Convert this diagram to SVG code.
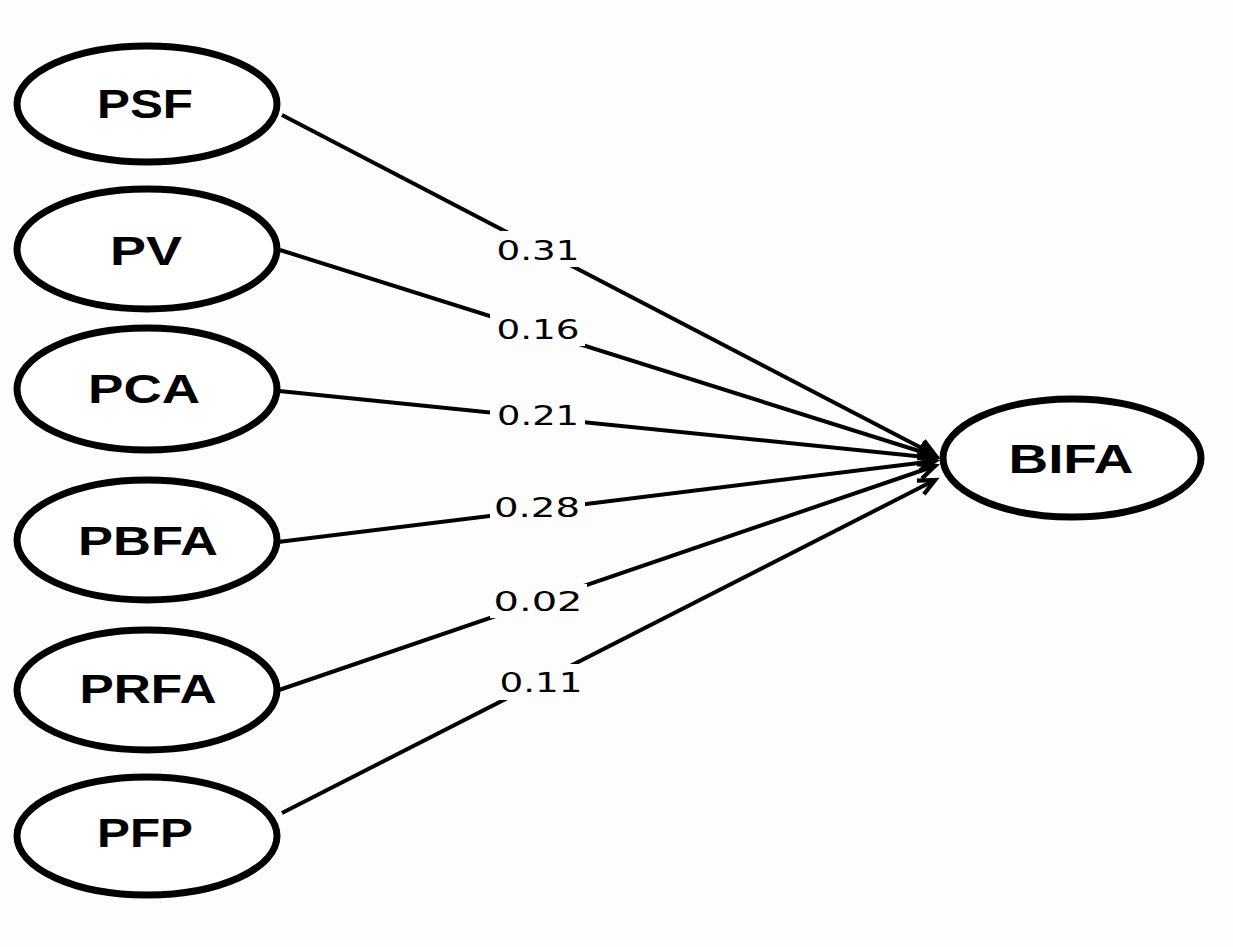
<svg xmlns="http://www.w3.org/2000/svg" width="1233" height="947" viewBox="0 0 1233 947">
  <style>
    .node ellipse { fill: #ffffff; stroke: #000000; stroke-width: 7; }
    .node text { font-family: "Liberation Sans", Arial, sans-serif; font-weight: bold; font-size: 40px; fill: #000000; text-anchor: middle; }
    .edge line { stroke: #000000; stroke-width: 4; marker-end: url(#arrow); }
    .lbl rect { fill: #fdfdfd; stroke: none; }
    .lbl text { font-family: "DejaVu Sans", "Liberation Sans", sans-serif; font-size: 27px; fill: #000000; text-anchor: middle; }
  </style>
  <defs>
    <marker id="arrow" markerUnits="userSpaceOnUse" markerWidth="24" markerHeight="24" viewBox="-2 -2 22 20" refX="16" refY="8" orient="auto" overflow="visible">
      <path d="M1,1 L16,8 L1,15" fill="none" stroke="#000000" stroke-width="4" stroke-linejoin="miter"/>
    </marker>
  </defs>
  <rect x="0" y="0" width="1233" height="947" fill="#fdfdfd"/>

  <g id="connectors">
    <g class="edge">
      <line x1="282" y1="115" x2="935" y2="455"/>
      <line x1="280" y1="250" x2="935" y2="456"/>
      <line x1="279" y1="391" x2="935" y2="458"/>
      <line x1="278" y1="542" x2="935" y2="461"/>
      <line x1="279" y1="690" x2="935" y2="466"/>
      <line x1="282" y1="813" x2="935" y2="480"/>
    </g>
    <g class="lbl">
      <rect x="490" y="231" width="95" height="36"/>
      <text x="538" y="260" textLength="83" lengthAdjust="spacingAndGlyphs">0.31</text>
      <rect x="490" y="313" width="95" height="33"/>
      <text x="538" y="339" textLength="83" lengthAdjust="spacingAndGlyphs">0.16</text>
      <rect x="490" y="400" width="95" height="32"/>
      <text x="538" y="425" textLength="82" lengthAdjust="spacingAndGlyphs">0.21</text>
      <rect x="490" y="491" width="95" height="32"/>
      <text x="537" y="517" textLength="86" lengthAdjust="spacingAndGlyphs">0.28</text>
      <rect x="490" y="584" width="97" height="34"/>
      <text x="538" y="611" textLength="89" lengthAdjust="spacingAndGlyphs">0.02</text>
      <rect x="490" y="664" width="97" height="36"/>
      <text x="541" y="692" textLength="83" lengthAdjust="spacingAndGlyphs">0.11</text>
    </g>
  </g>

  <g id="PSF" class="node">
    <ellipse cx="147" cy="104" rx="130" ry="58"/>
    <text x="145" y="118" textLength="96" lengthAdjust="spacingAndGlyphs">PSF</text>
  </g>
  <g id="PV" class="node">
    <ellipse cx="147" cy="249" rx="130" ry="60"/>
    <text x="146" y="265" textLength="72" lengthAdjust="spacingAndGlyphs">PV</text>
  </g>
  <g id="PCA" class="node">
    <ellipse cx="147" cy="389" rx="130" ry="61"/>
    <text x="144" y="403" textLength="112" lengthAdjust="spacingAndGlyphs">PCA</text>
  </g>
  <g id="PBFA" class="node">
    <ellipse cx="147" cy="540" rx="130" ry="60"/>
    <text x="148" y="555" textLength="140" lengthAdjust="spacingAndGlyphs">PBFA</text>
  </g>
  <g id="PRFA" class="node">
    <ellipse cx="147" cy="690" rx="130" ry="60"/>
    <text x="148" y="703" textLength="137" lengthAdjust="spacingAndGlyphs">PRFA</text>
  </g>
  <g id="PFP" class="node">
    <ellipse cx="147" cy="836" rx="130" ry="59"/>
    <text x="145" y="847" textLength="96" lengthAdjust="spacingAndGlyphs">PFP</text>
  </g>
  <g id="BIFA" class="node">
    <ellipse cx="1072" cy="458" rx="129" ry="59"/>
    <text x="1071" y="473" textLength="125" lengthAdjust="spacingAndGlyphs">BIFA</text>
  </g>
</svg>
